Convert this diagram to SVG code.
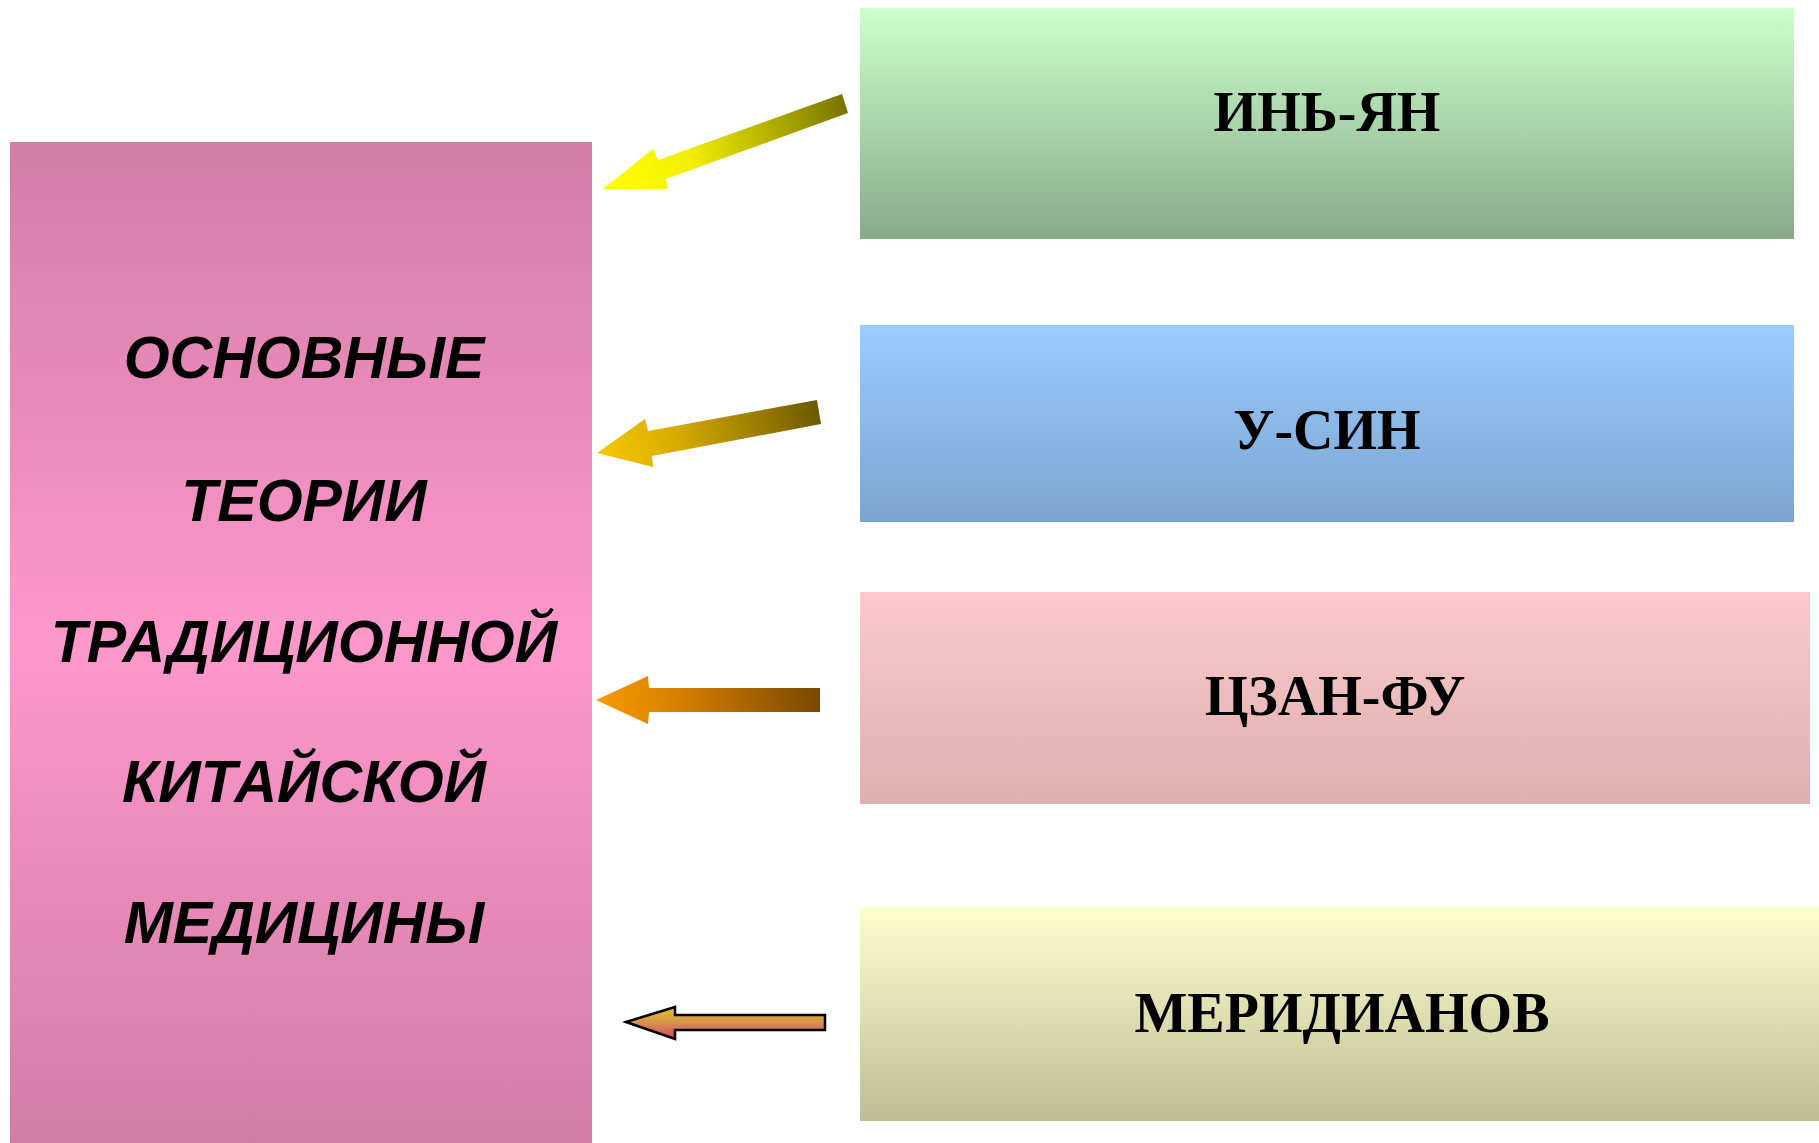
<svg xmlns="http://www.w3.org/2000/svg" width="1819" height="1143" viewBox="0 0 1819 1143">
<style>
.lbl{font-family:"Liberation Serif","Times New Roman",serif;font-weight:bold;font-size:56px;fill:#000;text-anchor:middle}
.main{font-family:"Liberation Sans",Arial,sans-serif;font-weight:bold;font-style:italic;font-size:59px;fill:#000;text-anchor:middle}
</style>
<defs>
<linearGradient id="gMain" x1="0" y1="0" x2="0" y2="1">
<stop offset="0" stop-color="#D27CA6"/>
<stop offset="0.5" stop-color="#FD98CB"/>
<stop offset="1" stop-color="#D27CA6"/>
</linearGradient>
<linearGradient id="gGreen" x1="0" y1="0" x2="0" y2="1">
<stop offset="0" stop-color="#CCFFCC"/>
<stop offset="1" stop-color="#88AA88"/>
</linearGradient>
<linearGradient id="gBlue" x1="0" y1="0" x2="0" y2="1">
<stop offset="0" stop-color="#99CCFF"/>
<stop offset="1" stop-color="#7BA5D0"/>
</linearGradient>
<linearGradient id="gRose" x1="0" y1="0" x2="0" y2="1">
<stop offset="0" stop-color="#FDC9CB"/>
<stop offset="1" stop-color="#DDB0AE"/>
</linearGradient>
<linearGradient id="gYellow" x1="0" y1="0" x2="0" y2="1">
<stop offset="0" stop-color="#FFFFCC"/>
<stop offset="1" stop-color="#BDBD96"/>
</linearGradient>
<linearGradient id="gA1" gradientUnits="userSpaceOnUse" x1="603" y1="189" x2="848" y2="100">
<stop offset="0" stop-color="#FFFF00"/>
<stop offset="0.35" stop-color="#F2F000"/>
<stop offset="1" stop-color="#767200"/>
</linearGradient>
<linearGradient id="gA2" gradientUnits="userSpaceOnUse" x1="600" y1="465" x2="820" y2="405">
<stop offset="0" stop-color="#F8C800"/>
<stop offset="0.35" stop-color="#D8AC00"/>
<stop offset="1" stop-color="#6A5800"/>
</linearGradient>
<linearGradient id="gA3" gradientUnits="userSpaceOnUse" x1="600" y1="720" x2="820" y2="690">
<stop offset="0" stop-color="#F89A00"/>
<stop offset="0.35" stop-color="#D88000"/>
<stop offset="1" stop-color="#784800"/>
</linearGradient>
<linearGradient id="gA4" x1="0" y1="0" x2="0" y2="1">
<stop offset="0" stop-color="#D8C820"/>
<stop offset="0.5" stop-color="#D89050"/>
<stop offset="1" stop-color="#D0406E"/>
</linearGradient>
</defs>

<g id="node-main">
<rect x="10" y="142" width="582" height="1001" fill="url(#gMain)"/>
<text class="main" x="304" y="378">ОСНОВНЫЕ</text>
<text class="main" x="304" y="521">ТЕОРИИ</text>
<text class="main" x="304" y="662">ТРАДИЦИОННОЙ</text>
<text class="main" x="304" y="802">КИТАЙСКОЙ</text>
<text class="main" x="304" y="943">МЕДИЦИНЫ</text>
</g>

<g id="node-yinyang">
<rect x="860" y="8" width="934" height="231" fill="url(#gGreen)"/>
<text class="lbl" x="1327" y="131">ИНЬ-ЯН</text>
</g>
<g id="node-usin">
<rect x="860" y="325" width="934" height="197" fill="url(#gBlue)"/>
<text class="lbl" x="1327" y="449">У-СИН</text>
</g>
<g id="node-czanfu">
<rect x="860" y="592" width="950" height="212" fill="url(#gRose)"/>
<text class="lbl" x="1335" y="715">ЦЗАН-ФУ</text>
</g>
<g id="node-meridians">
<rect x="860" y="907" width="959" height="214" fill="url(#gYellow)"/>
<text class="lbl" x="1342" y="1032">МЕРИДИАНОВ</text>
</g>

<g id="connectors">
<polygon points="603,189 653,149 658,160 842,94 848,113 666,179 668,189" fill="url(#gA1)"/>
<polygon points="597,453 645,419 648,431 817,400 821,424 652,456 653,467" fill="url(#gA2)"/>
<polygon points="596,700 648,676 649,688 820,688 820,712 649,712 648,724" fill="url(#gA3)"/>
<polygon points="626,1022 675,1007 675,1015 825,1015 825,1030 675,1030 675,1039" fill="url(#gA4)" stroke="#000" stroke-width="2.5" stroke-linejoin="miter"/>
</g>
</svg>
